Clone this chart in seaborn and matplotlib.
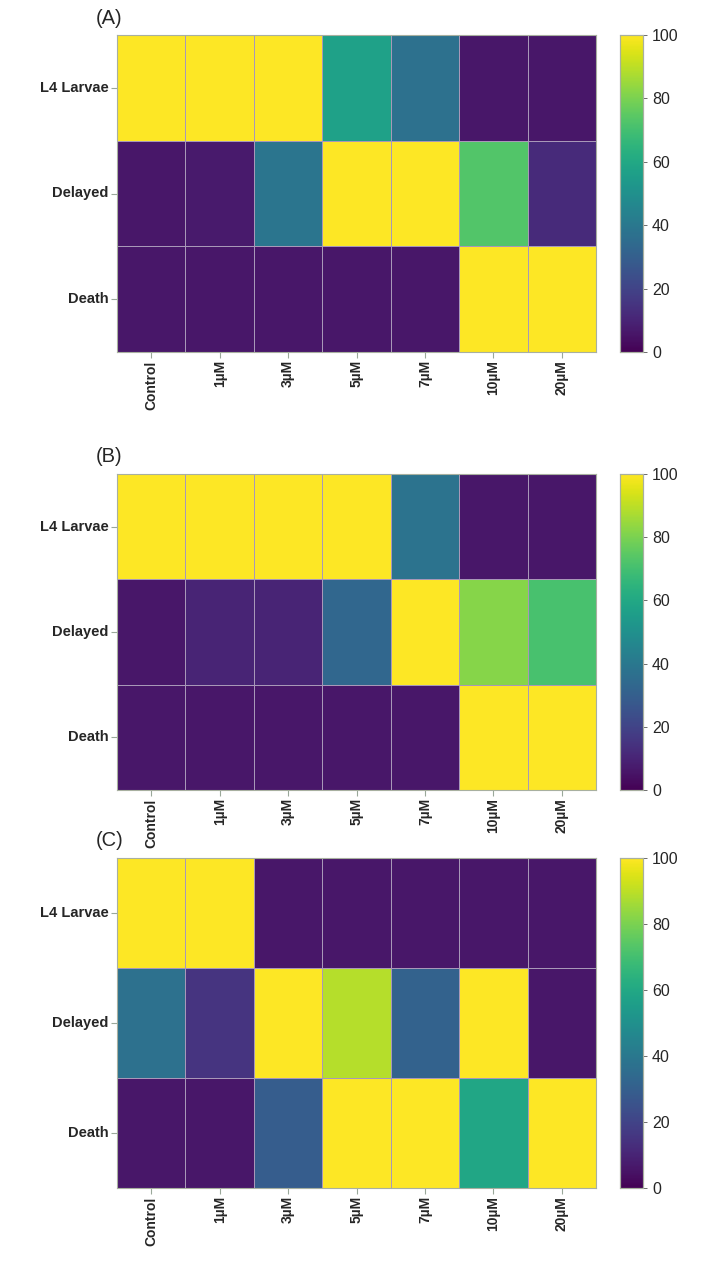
import numpy as np
import pandas as pd
import matplotlib
matplotlib.use("Agg")
import matplotlib.pyplot as plt
import seaborn as sns

concentrations = ["Control", "1µM", "3µM", "5µM", "7µM", "10µM", "20µM"]
stages = ["L4 Larvae", "Delayed", "Death"]

panel_a_l4 = [100, 100, 100, 57, 37, 6, 6]
panel_a_delayed = [6, 7, 39, 100, 100, 73, 12]
panel_a_death = [6, 6, 6, 6, 6, 100, 100]

panel_b_l4 = [100, 100, 100, 100, 38, 6, 6]
panel_b_delayed = [6, 10, 10, 33, 100, 82, 71]
panel_b_death = [6, 6, 6, 6, 6, 100, 100]

panel_c_l4 = [100, 100, 6, 6, 6, 6, 6]
panel_c_delayed = [37, 15, 100, 89, 31, 100, 6]
panel_c_death = [6, 6, 29, 100, 100, 59, 100]

panel_labels = ["(A)", "(B)", "(C)"]
cbar_ticks = [0, 20, 40, 60, 80, 100]

panels = [
    (panel_a_l4, panel_a_delayed, panel_a_death),
    (panel_b_l4, panel_b_delayed, panel_b_death),
    (panel_c_l4, panel_c_delayed, panel_c_death),
]

sns.set_theme(style="white")
plt.rcParams["font.family"] = ["Liberation Sans", "DejaVu Sans"]

W, H = 712, 1275
fig = plt.figure(figsize=(W / 100, H / 100), dpi=100)

# pixel boxes (top, bottom) for each heatmap
boxes = [(35, 352), (474, 790), (858, 1188)]
left_px, right_px = 117, 596
cb_left, cb_right = 620, 643

for (l4, dl, de), (top, bot), lab in zip(panels, boxes, panel_labels):
    df = pd.DataFrame([l4, dl, de], index=stages, columns=concentrations)
    ax = fig.add_axes([left_px / W, 1 - bot / H, (right_px - left_px) / W, (bot - top) / H])
    cax = fig.add_axes([cb_left / W, 1 - bot / H, (cb_right - cb_left) / W, (bot - top) / H])
    sns.heatmap(df, ax=ax, cbar_ax=cax, cmap="viridis", vmin=0, vmax=100,
                linewidths=0.5, linecolor="#a898b8",
                cbar_kws={"ticks": cbar_ticks})
    ax.tick_params(axis="both", which="both", length=4, width=0.8, color="#9aa89a",
                   bottom=True, left=True, pad=2)
    ax.set_xticklabels(concentrations, rotation=90, fontsize=10, fontweight="bold")
    ax.set_yticklabels(stages, rotation=0, fontsize=10.5, fontweight="bold")
    ax.set_xlabel("")
    ax.set_ylabel("")
    for s in ax.spines.values():
        s.set_visible(True)
        s.set_color("#a8b0a0")
        s.set_linewidth(0.8)
    cax.tick_params(labelsize=11.5, length=3, color="#555555", width=0.6)
    for s in cax.spines.values():
        s.set_visible(True)
        s.set_color("#a8b0a0")
        s.set_linewidth(0.8)
    fig.text((left_px - 21) / W, 1 - (top - 17) / H, lab, fontsize=14.5,
             ha="left", va="center", fontfamily=["Liberation Sans", "DejaVu Sans"])

fig.savefig("out.png", dpi=100, facecolor="white")
